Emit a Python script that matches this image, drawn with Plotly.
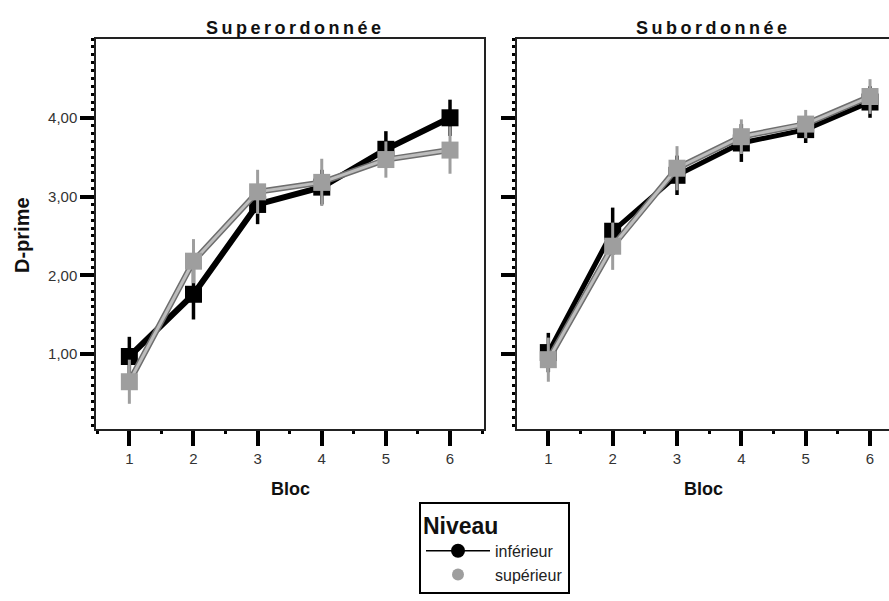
import plotly.graph_objects as go

# ---- data ----
bloc = [1, 2, 3, 4, 5, 6]
tick_vals_y = [1, 2, 3, 4]
tick_text_y = ["1,00", "2,00", "3,00", "4,00"]

super_inf = [0.97, 1.76, 2.90, 3.12, 3.60, 4.00]
super_inf_err = [0.25, 0.32, 0.25, 0.22, 0.23, 0.23]
super_sup = [0.65, 2.18, 3.06, 3.18, 3.47, 3.59]
super_sup_err = [0.28, 0.28, 0.28, 0.30, 0.23, 0.30]

sub_inf = [1.02, 2.56, 3.27, 3.68, 3.85, 4.20]
sub_inf_err = [0.25, 0.30, 0.25, 0.24, 0.17, 0.20]
sub_sup = [0.93, 2.37, 3.36, 3.76, 3.92, 4.27]
sub_sup_err = [0.28, 0.30, 0.28, 0.22, 0.18, 0.22]

panel_titles = ["Superordonnée", "Subordonnée"]
legend_names = ["inférieur", "supérieur"]

W, H = 889, 601
FONT = "Liberation Sans, Arial, sans-serif"
BLACK = "#000000"
GRAY_LINE = "#bdbdbd"
GRAY_EDGE = "#6e6e6e"
GRAY_MARK = "#9e9e9e"

fig = go.Figure()


def add_panel(xa, ya, inf, inf_err, sup, sup_err, black_w):
    fig.add_trace(go.Scatter(
        x=bloc, y=inf, xaxis=xa, yaxis=ya, mode="lines+markers",
        line=dict(color=BLACK, width=black_w),
        marker=dict(symbol="square", size=17, color=BLACK),
        error_y=dict(type="data", array=inf_err, color=BLACK, thickness=3.5, width=0),
        showlegend=False, hoverinfo="skip"))
    fig.add_trace(go.Scatter(
        x=bloc, y=sup, xaxis=xa, yaxis=ya, mode="lines",
        line=dict(color=GRAY_EDGE, width=6),
        showlegend=False, hoverinfo="skip"))
    fig.add_trace(go.Scatter(
        x=bloc, y=sup, xaxis=xa, yaxis=ya, mode="lines+markers",
        line=dict(color=GRAY_LINE, width=3),
        marker=dict(symbol="square", size=17, color=GRAY_MARK),
        error_y=dict(type="data", array=sup_err, color=GRAY_MARK, thickness=3, width=0),
        showlegend=False, hoverinfo="skip"))


add_panel("x", "y", super_inf, super_inf_err, super_sup, super_sup_err, 6)
add_panel("x2", "y2", sub_inf, sub_inf_err, sub_sup, sub_sup_err, 5)

# legend-only entries
fig.add_trace(go.Scatter(
    x=[None], y=[None], mode="lines+markers", name=legend_names[0],
    line=dict(color=BLACK, width=1.5),
    marker=dict(symbol="circle", size=14, color=BLACK)))
fig.add_trace(go.Scatter(
    x=[None], y=[None], mode="markers", name=legend_names[1],
    marker=dict(symbol="circle", size=12, color=GRAY_MARK)))


def px_x(p):
    return p / W


def px_y(p):
    return 1 - p / H


common_x = dict(
    tickmode="array", tickvals=bloc, ticktext=[str(b) for b in bloc],
    ticks="outside", ticklen=15, tickwidth=4, tickcolor=BLACK,
    showline=True, linecolor="#222", linewidth=1.5, mirror=True,
    showgrid=False, zeroline=False,
    tickfont=dict(family=FONT, size=15, color="#333"),
    minor=dict(tickmode="linear", tick0=0.5, dtick=0.5, ticks="outside",
               ticklen=3, tickwidth=3, tickcolor=BLACK, showgrid=False),
)
common_y = dict(
    range=[0.05, 5.0],
    tickmode="array", tickvals=tick_vals_y, ticktext=tick_text_y,
    ticks="outside", ticklen=14, tickwidth=4, tickcolor=BLACK,
    showline=True, linecolor="#222", linewidth=1.5,
    showgrid=False, zeroline=False,
    tickfont=dict(family=FONT, size=15, color="#333"),
    minor=dict(tickmode="linear", tick0=0, dtick=0.1, ticks="outside",
               ticklen=3, tickwidth=3, tickcolor=BLACK, showgrid=False),
)

fig.update_layout(
    width=W, height=H,
    margin=dict(l=0, r=0, t=0, b=0),
    paper_bgcolor="white", plot_bgcolor="white",
    font=dict(family=FONT, color="#111"),
    xaxis=dict(common_x, domain=[px_x(96), px_x(484)], range=[0.48, 6.53], anchor="y"),
    yaxis=dict(common_y, domain=[px_y(429), px_y(39)], anchor="x", mirror=True),
    xaxis2=dict(common_x, domain=[px_x(517), 1.0], range=[0.513, 6.295], anchor="y2"),
    yaxis2=dict(common_y, domain=[px_y(429), px_y(39)], anchor="x2",
                showticklabels=False, mirror=False),
    legend=dict(
        x=px_x(419), y=px_y(502), xanchor="left", yanchor="top",
        bordercolor=BLACK, borderwidth=2, bgcolor="white",
        title=dict(text="<b>Niveau</b>", font=dict(family=FONT, size=23, color="#111")),
        font=dict(family=FONT, size=16, color="#222"),
        itemwidth=64, tracegroupgap=0,
    ),
    showlegend=True,
)

annos = [
    dict(text='<span style="letter-spacing:3.5px">' + panel_titles[0] + "</span>",
         x=px_x(295), y=px_y(28), font=dict(size=18)),
    dict(text='<span style="letter-spacing:3.5px">' + panel_titles[1] + "</span>",
         x=px_x(713), y=px_y(28), font=dict(size=18)),
    dict(text="Bloc", x=px_x(290), y=px_y(489), font=dict(size=18)),
    dict(text="Bloc", x=px_x(703), y=px_y(489), font=dict(size=18)),
    dict(text="D-prime", x=px_x(22), y=px_y(235), textangle=-90, font=dict(size=20)),
]
for a in annos:
    fig.add_annotation(
        text="<b>" + a["text"] + "</b>", x=a["x"], y=a["y"], xref="paper", yref="paper",
        xanchor="center", yanchor="middle", showarrow=False,
        textangle=a.get("textangle", 0),
        font=dict(family=FONT, size=a["font"]["size"], color="#111"))

fig.write_html("out.html")
